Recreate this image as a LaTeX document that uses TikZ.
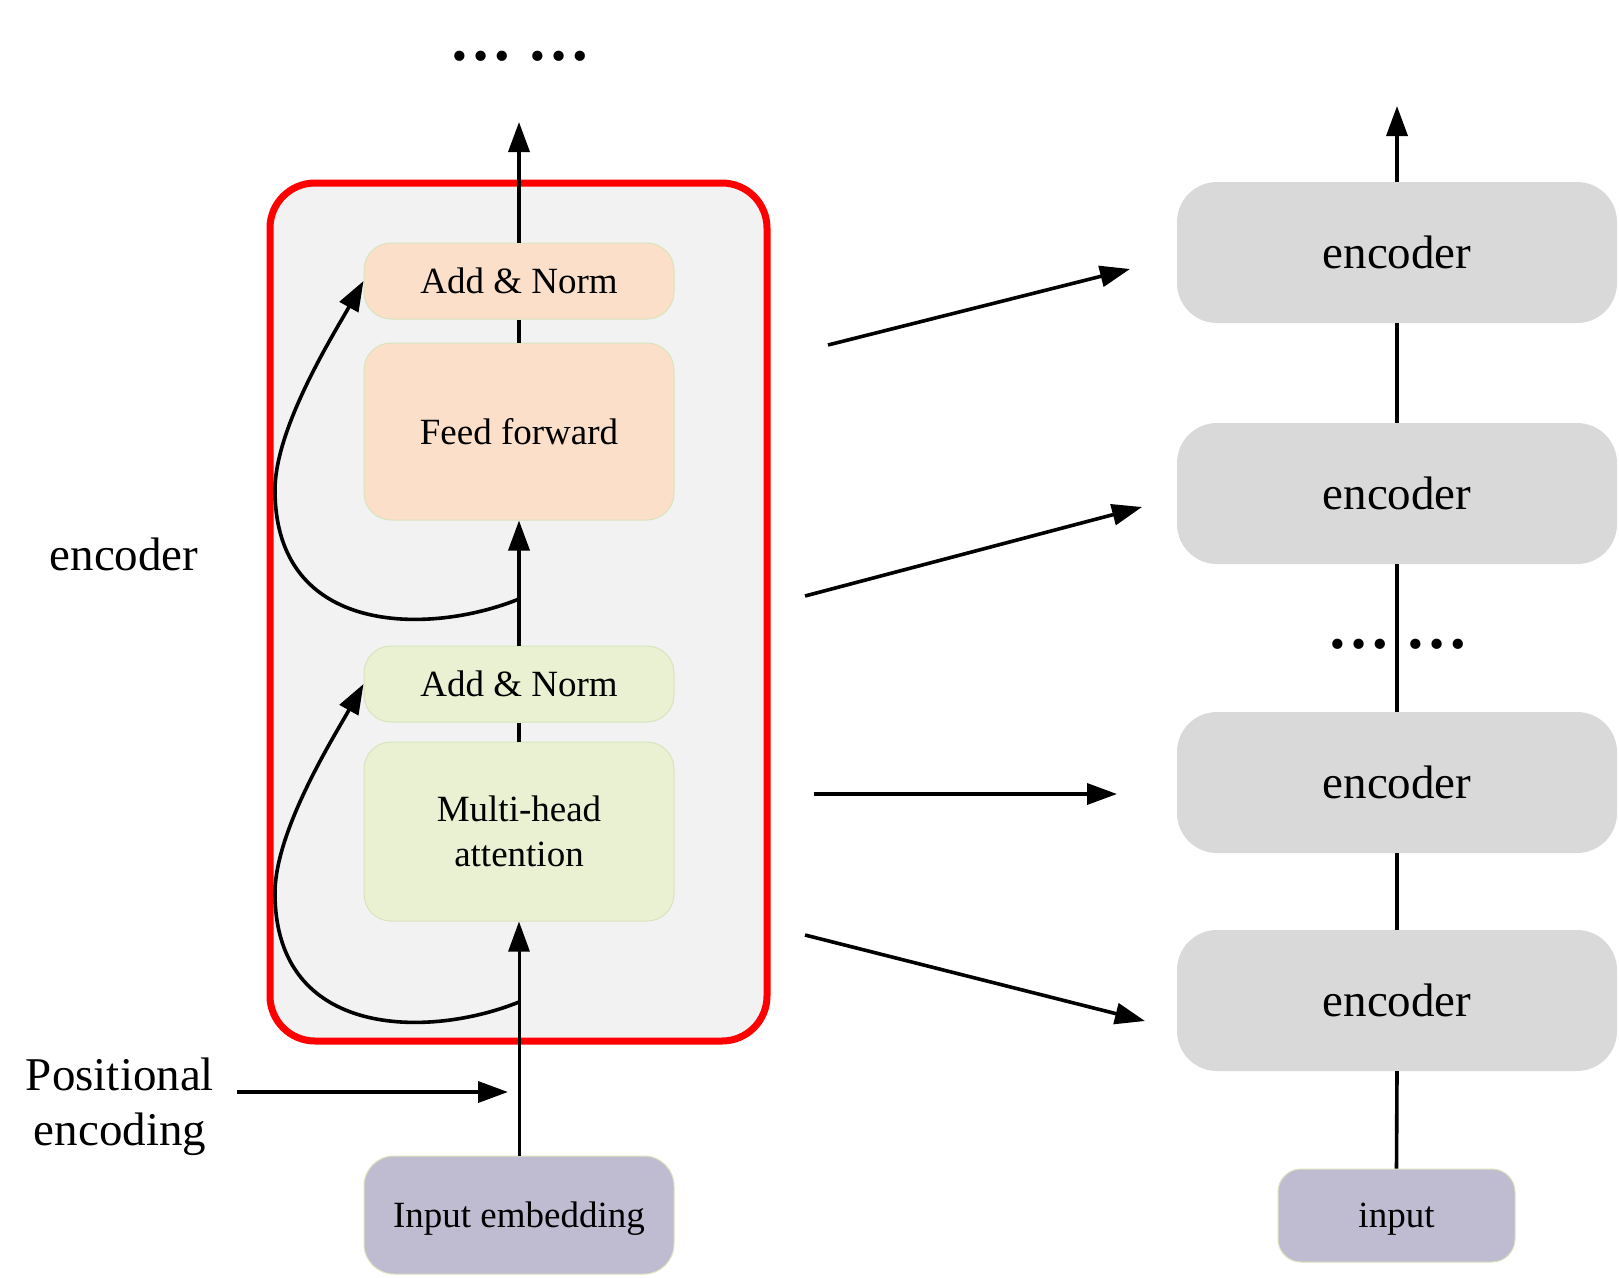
\documentclass[tikz,border=0pt]{standalone}
\usepackage{fontspec}
\setmainfont{Liberation Serif}
\usetikzlibrary{arrows.meta}
\definecolor{peach}{HTML}{FCDFC8}
\definecolor{greenl}{HTML}{EAF0D2}
\definecolor{purp}{HTML}{BFBCD2}
\definecolor{encg}{HTML}{D9D9D9}
\definecolor{bord}{HTML}{D8E4BC}
\definecolor{panelg}{HTML}{F2F2F2}
\begin{document}
\begin{tikzpicture}[x=1pt,y=1pt,
  box/.style={draw=bord, line width=1pt, rounded corners=27pt, minimum width=310pt, align=center, inner sep=0pt, font=\fontsize{37}{45}\selectfont},
  oneline/.style={text height=26pt, text depth=1.5pt},
  encbox/.style={fill=encg, rounded corners=40pt, minimum width=440pt, minimum height=141pt, inner sep=0pt, font=\fontsize{47}{56}\selectfont},
  arr/.style={line width=3.6pt, -{Triangle[length=30pt,width=21pt]}},
  ln/.style={line width=3.6pt},
  dots/.style={font=\fontsize{63}{63}\selectfont\bfseries, anchor=base, inner sep=0pt},
  big/.style={font=\fontsize{47}{55}\selectfont, align=center, inner sep=0pt}]
\useasboundingbox (0,0) rectangle (1619,-1277);

% left encoder panel
\node[draw=red, line width=7pt, fill=panelg, rounded corners=45pt, minimum width=497pt, minimum height=858pt] (panel) at (518.5,-612) {};

\node[box, fill=peach, minimum height=76pt] (an2) at (519,-281) {Add \& Norm};
\node[box, fill=peach, minimum height=177pt] (ff) at (519,-431.5) {Feed forward};
\node[box, fill=greenl, minimum height=76pt] (an1) at (519,-684) {Add \& Norm};
\node[box, fill=greenl, minimum height=179pt] (mha) at (519,-831.5) {Multi-head\\attention};
\node[box, oneline, fill=purp, rounded corners=30pt, minimum height=118pt] (emb) at (519,-1215) {Input embedding};

\node[big] (enclabel) at (124,-554) {encoder};
\node[big] (poslabel) at (120,-1107) {Positional\\encoding};

\node[dots] (dtop) at (520,-60) {… …};

% main flow
\draw[arr, line width=3pt] (emb.north) -- (mha.south);
\draw[ln] (mha.north) -- (an1.south);
\draw[arr] (an1.north) -- (ff.south);
\draw[ln] (ff.north) -- (an2.south);
\coordinate (topout) at (519,-122);
\draw[arr] (an2.north) -- (topout);

% residual connections
\coordinate (r1) at (519,-1002);
\draw[arr] (r1) .. controls (430,-1038) and (275,-1040) .. (275,-893) .. controls (275,-830) and (335,-735) .. (an1.west);
\coordinate (r2) at (519,-599);
\draw[arr] (r2) .. controls (430,-635) and (275,-637) .. (275,-490) .. controls (275,-427) and (335,-332) .. (an2.west);

% positional encoding arrow
\coordinate (pa) at (237,-1092);
\coordinate (pb) at (508,-1092);
\draw[arr] (pa) -- (pb);

% right stack
\node[encbox] (enc1) at (1397,-252.5) {encoder};
\node[encbox] (enc2) at (1397,-493.5) {encoder};
\node[encbox] (enc3) at (1397,-782.5) {encoder};
\node[encbox] (enc4) at (1397,-1000.5) {encoder};
\node[box, oneline, fill=purp, rounded corners=23pt, minimum width=237pt, minimum height=93pt] (inp) at (1396.5,-1215.5) {input};

\draw[ln] (inp.north) -- (enc4.south);
\draw[ln] (enc4.north) -- (enc3.south);
\draw[ln] (enc3.north) -- (enc2.south);
\draw[ln] (enc2.north) -- (enc1.south);
\coordinate (rtop) at (1397,-106);
\draw[arr] (enc1.north) -- (rtop);
\node[dots] (dright) at (1398,-648) {… …};

% mapping arrows
\coordinate (a1s) at (828,-345);   \coordinate (a1e) at (1130,-269);
\coordinate (a2s) at (805,-596);   \coordinate (a2e) at (1142,-507);
\coordinate (a3s) at (814,-794);   \coordinate (a3e) at (1117,-794);
\coordinate (a4s) at (805,-935);   \coordinate (a4e) at (1145,-1021);
\draw[arr] (a1s) -- (a1e);
\draw[arr] (a2s) -- (a2e);
\draw[arr] (a3s) -- (a3e);
\draw[arr] (a4s) -- (a4e);
\end{tikzpicture}
\end{document}
